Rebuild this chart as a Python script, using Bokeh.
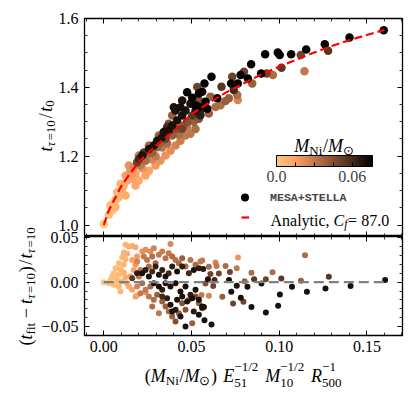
import numpy as np
from bokeh.plotting import figure
from bokeh.models import (ColumnDataSource, LinearColorMapper, ColorBar, FixedTicker, AllLabels,
                          Label, Legend, LegendItem, LinearAxis, Range1d, NumeralTickFormatter)
from bokeh.layouts import column
from bokeh.embed import file_html
from bokeh.resources import INLINE

# ---------------- data ----------------
top_x = [0.0, 0.0038, 0.0048, 0.0067, 0.0086, 0.0076, 0.0105, 0.0114, 0.0095, 0.0133, 0.0143, 0.0162,
         0.0124, 0.0152, 0.0181, 0.0171, 0.0190, 0.0209, 0.0200, 0.0219, 0.0238, 0.0228, 0.0257, 0.0257,
         0.0276, 0.0285, 0.0304, 0.0304, 0.0323, 0.0333, 0.0352, 0.0342, 0.0370, 0.0361, 0.0390, 0.0390,
         0.0409, 0.0418, 0.0409, 0.0437, 0.0447, 0.0466, 0.0475, 0.0456, 0.0504, 0.0494, 0.0523, 0.0542,
         0.0561, 0.0067, 0.0124, 0.0181, 0.0238, 0.0295, 0.0352, 0.0409, 0.0466, 0.0523, 0.0200, 0.0257,
         0.0323, 0.0380, 0.0437, 0.0494, 0.0143, 0.0200, 0.0257, 0.0314, 0.0370, 0.0390, 0.0276, 0.0333,
         0.0428, 0.0475, 0.0513, 0.0219, 0.0162, 0.0105, 0.0057, 0.0029, 0.0295, 0.0361, 0.0447, 0.0542,
         0.0475, 0.0447, 0.0399, 0.0504,
         0.1596, 0.1401, 0.1260, 0.1279, 0.1154, 0.1123, 0.1144, 0.1068, 0.1003, 0.0992, 0.1013, 0.0920,
         0.0964, 0.0928, 0.0897, 0.0840, 0.0846, 0.0821, 0.0780, 0.0799, 0.0732, 0.0764, 0.0726, 0.0741,
         0.0671, 0.0614, 0.0574, 0.0713, 0.0761, 0.0764, 0.0694, 0.0647, 0.0542, 0.0533, 0.0561, 0.0608,
         0.0580, 0.0637, 0.0590, 0.0546, 0.0523, 0.0551, 0.0599, 0.0665, 0.0542]
top_y = [1.003, 1.057, 1.042, 1.072, 1.081, 1.095, 1.090, 1.115, 1.120, 1.129, 1.144, 1.134,
         1.144, 1.159, 1.149, 1.168, 1.182, 1.173, 1.192, 1.202, 1.187, 1.211, 1.207, 1.221,
         1.211, 1.231, 1.226, 1.245, 1.240, 1.255, 1.250, 1.270, 1.274, 1.284, 1.260, 1.289,
         1.279, 1.304, 1.333, 1.342, 1.318, 1.333, 1.299, 1.289, 1.318, 1.352, 1.333, 1.309,
         1.338, 1.052, 1.086, 1.115, 1.144, 1.173, 1.202, 1.231, 1.260, 1.279, 1.129, 1.158,
         1.187, 1.216, 1.245, 1.265, 1.173, 1.202, 1.231, 1.260, 1.294, 1.318, 1.190, 1.225,
         1.262, 1.285, 1.300, 1.165, 1.150, 1.105, 1.065, 1.030, 1.200, 1.237, 1.280, 1.325,
         1.386, 1.362, 1.342, 1.370,
         1.566, 1.545, 1.525, 1.506, 1.510, 1.494, 1.447, 1.496, 1.494, 1.501, 1.457, 1.496,
         1.436, 1.440, 1.440, 1.467, 1.411, 1.426, 1.436, 1.445, 1.431, 1.411, 1.411, 1.392,
         1.402, 1.431, 1.411, 1.368, 1.378, 1.363, 1.360, 1.368, 1.382, 1.401, 1.387, 1.373,
         1.358, 1.343, 1.338, 1.343, 1.348, 1.319, 1.324, 1.348, 1.363]
top_c = [0.001, 0.004, 0.003, 0.005, 0.006, 0.006, 0.008, 0.010, 0.008, 0.012, 0.012, 0.014,
         0.015, 0.020, 0.015, 0.025, 0.050, 0.030, 0.060, 0.070, 0.035, 0.055, 0.035, 0.070,
         0.040, 0.070, 0.040, 0.070, 0.040, 0.070, 0.050, 0.070, 0.070, 0.060, 0.040, 0.070,
         0.045, 0.070, 0.070, 0.070, 0.070, 0.070, 0.045, 0.040, 0.055, 0.070, 0.070, 0.045,
         0.060, 0.008, 0.010, 0.012, 0.015, 0.018, 0.020, 0.025, 0.030, 0.035, 0.012, 0.015,
         0.020, 0.022, 0.028, 0.030, 0.020, 0.030, 0.035, 0.040, 0.045, 0.040, 0.025, 0.030,
         0.035, 0.030, 0.040, 0.020, 0.018, 0.010, 0.005, 0.003, 0.030, 0.035, 0.050, 0.050,
         0.075, 0.070, 0.070, 0.075,
         0.075, 0.075, 0.075, 0.055, 0.075, 0.050, 0.030, 0.075, 0.075, 0.075, 0.055, 0.075,
         0.035, 0.050, 0.075, 0.075, 0.040, 0.075, 0.075, 0.050, 0.050, 0.075, 0.075, 0.060,
         0.055, 0.075, 0.075, 0.040, 0.035, 0.025, 0.040, 0.075, 0.075, 0.050, 0.075, 0.040,
         0.075, 0.035, 0.075, 0.075, 0.075, 0.065, 0.040, 0.035, 0.045]

res_x = [0.0, 0.0124, 0.0143, 0.0162, 0.0181, 0.0114, 0.0133, 0.0105, 0.0124, 0.0086, 0.0114, 0.0067,
         0.0095, 0.0057, 0.0086, 0.0114, 0.0124, 0.0067, 0.0076, 0.0105, 0.0133, 0.0086, 0.0143, 0.0162,
         0.0095, 0.0181, 0.0038, 0.0048, 0.0029, 0.0057, 0.0152, 0.0171, 0.0181, 0.0162, 0.0190, 0.0219,
         0.0238, 0.0266, 0.0285, 0.0380, 0.0190, 0.0238,
         0.0190, 0.0209, 0.0228, 0.0247, 0.0257, 0.0276, 0.0295, 0.0314, 0.0333, 0.0352, 0.0370, 0.0390,
         0.0409, 0.0428, 0.0447, 0.0466, 0.0494, 0.0523, 0.0551, 0.0200, 0.0219, 0.0238, 0.0266, 0.0190,
         0.0209, 0.0257, 0.0285, 0.0276, 0.0304, 0.0333, 0.0314, 0.0352, 0.0370, 0.0390, 0.0409, 0.0428,
         0.0466, 0.0504, 0.0447, 0.0485, 0.0523, 0.0542, 0.0561,
         0.0162, 0.0190, 0.0219, 0.0238, 0.0257, 0.0276, 0.0295, 0.0314, 0.0333, 0.0352, 0.0370, 0.0390,
         0.0418, 0.0447, 0.0485, 0.0513, 0.0542, 0.0285, 0.0314, 0.0333, 0.0352, 0.0380, 0.0409, 0.0437,
         0.0466, 0.0494, 0.0523, 0.0418, 0.0447, 0.0475, 0.0504, 0.0542, 0.0561, 0.0333, 0.0361, 0.0380,
         0.0409, 0.0437, 0.0390, 0.0466, 0.0513, 0.0542,
         0.0561, 0.0567, 0.0599, 0.0594, 0.0637, 0.0643, 0.0608, 0.0656, 0.0631, 0.0580, 0.0624, 0.0557,
         0.0599, 0.0676, 0.0561, 0.0571, 0.0574, 0.0614, 0.0694, 0.0719, 0.0765, 0.0758, 0.0714, 0.0727,
         0.0758, 0.0737, 0.0781, 0.0796, 0.0803, 0.0819, 0.0842, 0.0857, 0.0842, 0.0899, 0.0924, 0.0962,
         0.0924, 0.0994, 0.1004, 0.1012, 0.1073, 0.1124, 0.1147, 0.1158, 0.1264, 0.1283, 0.1407, 0.1604]
res_r = [0.0, 0.0422, 0.0403, 0.0410, 0.0395, 0.0335, 0.0320, 0.0283, 0.0260, 0.0214, 0.0199, 0.0158,
         0.0147, 0.0102, 0.0083, 0.0109, 0.0057, 0.0045, 0.0019, 0.0008, -0.0011, -0.0049, -0.0049, -0.0086,
         -0.0105, -0.0161, 0.0026, 0.0064, -0.0011, -0.0030, 0.0064, 0.0139, 0.0196, 0.0252, 0.0290, 0.0347,
         0.0365, 0.0347, 0.0384, 0.0430, -0.0151, -0.0113,
         0.0233, 0.0139, 0.0290, 0.0252, 0.0177, 0.0290, 0.0214, 0.0309, 0.0347, 0.0271, 0.0328, 0.0290,
         0.0252, 0.0214, 0.0271, 0.0177, 0.0252, 0.0196, 0.0233, 0.0064, -0.0011, -0.0086, -0.0049, -0.0049,
         -0.0124, -0.0161, -0.0199, -0.0274, -0.0143, -0.0218, -0.0350, -0.0274, -0.0331, -0.0387, -0.0444, -0.0350,
         -0.0312, -0.0463, -0.0237, -0.0199, -0.0161, -0.0237, -0.0293,
         0.0045, 0.0102, 0.0102, 0.0139, 0.0064, 0.0120, 0.0177, 0.0083, 0.0139, 0.0064, 0.0102, 0.0177,
         0.0120, 0.0177, 0.0102, 0.0139, 0.0158, -0.0011, -0.0049, -0.0086, -0.0011, -0.0049, -0.0011, -0.0105,
         -0.0049, -0.0143, -0.0086, -0.0199, -0.0161, -0.0218, -0.0180, -0.0199, -0.0274, -0.0161, -0.0180, -0.0256,
         -0.0312, -0.0387, -0.0331, -0.0500, -0.0331, -0.0368,
         0.0244, 0.0149, 0.0175, 0.0032, 0.0222, 0.0183, 0.0093, 0.0099, 0.0025, -0.0015, -0.0044, -0.0146,
         -0.0154, -0.0165, -0.0286, -0.0279, -0.0430, -0.0479, 0.0183, 0.0115, 0.0278, 0.0157, 0.0025, -0.0108,
         -0.0040, -0.0240, -0.0176, -0.0221, 0.0012, -0.0051, 0.0107, 0.0032, -0.0279, -0.0014, 0.0032, 0.0112,
         -0.0342, -0.0267, -0.0139, 0.0043, -0.0051, 0.0017, 0.0304, -0.0108, -0.0071, 0.0062, -0.0044, 0.0025]
res_c = [0.001, 0.008, 0.010, 0.010, 0.012, 0.008, 0.010, 0.006, 0.008, 0.005, 0.008, 0.004,
         0.006, 0.003, 0.006, 0.009, 0.010, 0.004, 0.005, 0.008, 0.010, 0.006, 0.012, 0.014,
         0.006, 0.016, 0.002, 0.003, 0.002, 0.004, 0.014, 0.015, 0.017, 0.015, 0.018, 0.020,
         0.022, 0.024, 0.026, 0.024, 0.012, 0.020,
         0.026, 0.030, 0.030, 0.032, 0.036, 0.034, 0.036, 0.030, 0.028, 0.032, 0.030, 0.034,
         0.032, 0.036, 0.040, 0.036, 0.032, 0.036, 0.030, 0.030, 0.034, 0.030, 0.036, 0.026,
         0.030, 0.030, 0.034, 0.034, 0.040, 0.040, 0.030, 0.040, 0.035, 0.040, 0.045, 0.040,
         0.045, 0.040, 0.045, 0.040, 0.045, 0.040, 0.040,
         0.055, 0.065, 0.070, 0.065, 0.070, 0.060, 0.065, 0.070, 0.065, 0.070, 0.060, 0.065,
         0.070, 0.065, 0.060, 0.070, 0.065, 0.070, 0.070, 0.065, 0.070, 0.070, 0.070, 0.070,
         0.070, 0.065, 0.070, 0.070, 0.070, 0.070, 0.070, 0.070, 0.070, 0.060, 0.065, 0.070,
         0.065, 0.070, 0.070, 0.070, 0.065, 0.070,
         0.030, 0.065, 0.035, 0.070, 0.025, 0.030, 0.050, 0.050, 0.060, 0.045, 0.050, 0.030,
         0.025, 0.040, 0.070, 0.070, 0.070, 0.070, 0.035, 0.050, 0.020, 0.030, 0.070, 0.070,
         0.070, 0.050, 0.070, 0.050, 0.040, 0.070, 0.035, 0.055, 0.070, 0.070, 0.050, 0.035,
         0.070, 0.070, 0.070, 0.055, 0.070, 0.040, 0.035, 0.070, 0.070, 0.055, 0.070, 0.070]

curve_x = [0.0, 0.0025, 0.005, 0.01, 0.015, 0.02, 0.03, 0.04, 0.05, 0.06, 0.07, 0.08,
           0.09, 0.10, 0.11, 0.12, 0.13, 0.14, 0.15, 0.16]
curve_y = [1.0, 1.038, 1.064, 1.113, 1.150, 1.183, 1.232, 1.274, 1.322, 1.355, 1.386, 1.412,
           1.438, 1.460, 1.481, 1.501, 1.520, 1.537, 1.552, 1.567]

cbar_ticks = [0.0, 0.06]
cbar_minor = [0.015, 0.03, 0.045]
cbar_labels = {0.0: "0.0", 0.06: "0.06"}
cbar_high = 0.076

top_yticks = [1.0, 1.2, 1.4, 1.6]
res_yticks = [-0.05, 0.0, 0.05]
res_ylabels = {-0.05: "\u22120.05", 0.0: "0.00", 0.05: "0.05"}
xticks = [0.0, 0.05, 0.10, 0.15]

# ---------------- geometry (picture pixels, origin top-left) ----------------
PAGE_W, PAGE_H = 407, 389
XR = (-0.011, 0.1703)
YT = (0.9666, 1.6)
YB = (-0.0602, 0.0516)
FL, FR = 84, 402             # frame left / right
TT, TB = 18, 236             # top frame
BT, BB = 236, 335            # residual frame
BOT_TOP = 230                # residual canvas starts 6 px above its frame (overlaps top canvas)
BOT_BOTTOM = 359

# copper_r palette
tt = np.linspace(1.0, 0.0, 256)
palette = ["#%02x%02x%02x" % (int(round(255 * min(1.0, 1.25 * v))),
                               int(round(255 * 0.7812 * v)),
                               int(round(255 * 0.4975 * v))) for v in tt]
mapper = LinearColorMapper(palette=palette, low=0.0, high=cbar_high)

SERIF = "Liberation Serif"
TICK_FS = "16px"

def style_axis(ax, ticks, minor, show, fmt=None, overrides=None, standoff=6):
    ax.ticker = FixedTicker(ticks=ticks, minor_ticks=minor)
    ax.axis_line_color = None
    ax.major_tick_in = 5
    ax.major_tick_out = 0
    ax.minor_tick_in = 3
    ax.minor_tick_out = 0
    ax.major_tick_line_color = "black"
    ax.minor_tick_line_color = "black"
    ax.major_tick_line_width = 1
    ax.minor_tick_line_width = 0.8
    ax.axis_label = None
    if show:
        ax.major_label_text_font = SERIF
        ax.major_label_text_font_size = TICK_FS
        ax.major_label_text_color = "black"
        ax.major_label_standoff = standoff
        if fmt is not None:
            ax.formatter = fmt
        if overrides is not None:
            ax.major_label_overrides = overrides
    else:
        ax.major_label_text_font_size = "0px"
        ax.major_label_text_color = None
        ax.major_label_standoff = 0

xminor = [round(-0.01 + 0.01 * i, 2) for i in range(19)]
ytop_minor = [round(0.95 + 0.05 * i, 2) for i in range(14)]
yres_minor = [round(-0.06 + 0.01 * i, 2) for i in range(12)]

# ---------------- top panel ----------------
order = np.argsort(np.array(top_c), kind="stable")
src_top = ColumnDataSource(dict(x=np.array(top_x)[order], y=np.array(top_y)[order],
                                c=np.array(top_c)[order]))

top = figure(width=PAGE_W, height=TB, x_range=Range1d(*XR), y_range=Range1d(*YT),
             output_backend="svg", toolbar_location=None,
             min_border_left=FL, min_border_right=PAGE_W - FR, min_border_top=TT,
             min_border_bottom=0)
top.grid.visible = False
top.outline_line_color = "black"
top.outline_line_width = 1.3
style_axis(top.xaxis[0], xticks, xminor, False)
style_axis(top.yaxis[0], top_yticks, ytop_minor, True, fmt=NumeralTickFormatter(format="0.0"))
ax_r = LinearAxis(); style_axis(ax_r, top_yticks, ytop_minor, False); top.add_layout(ax_r, "right")
ax_a = LinearAxis(); style_axis(ax_a, xticks, xminor, False); top.add_layout(ax_a, "above")

pts = top.scatter("x", "y", source=src_top, size=8.5, marker="circle",
                  fill_color={"field": "c", "transform": mapper}, line_color=None)
crv = top.line(curve_x, curve_y, line_color="#ff0000", line_width=2.2, line_dash="8 4")

leg_a = Legend(items=[LegendItem(label="MESA+STELLA", renderers=[pts], index=len(top_x) - 1)],
               location=(150, 28.7), glyph_width=21, glyph_height=20, label_height=20,
               spacing=0, padding=0, margin=0, label_standoff=15,
               label_text_font="Liberation Mono", label_text_font_size="11.6px",
               label_text_font_style="bold",
               background_fill_alpha=0, border_line_alpha=0)
leg_b = Legend(items=[LegendItem(label=" ", renderers=[crv])],
               location=(157, 8.7), glyph_width=8, glyph_height=20, label_height=20,
               spacing=0, padding=0, margin=0, label_standoff=2,
               label_text_font=SERIF, label_text_font_size="16px",
               background_fill_alpha=0, border_line_alpha=0)
top.add_layout(leg_a)
top.add_layout(leg_b)

cb = ColorBar(color_mapper=mapper, orientation="horizontal", location=(192, 52),
              width=96, height=11, padding=0, margin=0,
              ticker=FixedTicker(ticks=cbar_ticks, minor_ticks=cbar_minor),
              major_label_overrides=cbar_labels, major_label_policy=AllLabels(),
              major_label_text_font=SERIF, major_label_text_font_size=TICK_FS,
              label_standoff=4, major_tick_in=4, major_tick_out=0,
              minor_tick_in=4, minor_tick_out=0,
              major_tick_line_color="black", minor_tick_line_color="black",
              bar_line_color="black", bar_line_width=1,
              background_fill_alpha=0, border_line_color=None)
top.add_layout(cb)

# ---------------- residual panel ----------------
order_r = np.argsort(np.array(res_c), kind="stable")
src_res = ColumnDataSource(dict(x=np.array(res_x)[order_r], y=np.array(res_r)[order_r],
                                c=np.array(res_c)[order_r]))
bot = figure(width=PAGE_W, height=BOT_BOTTOM - BOT_TOP, x_range=top.x_range, y_range=Range1d(*YB),
             output_backend="svg", toolbar_location=None,
             min_border_left=FL, min_border_right=PAGE_W - FR, min_border_top=BT - BOT_TOP,
             min_border_bottom=BOT_BOTTOM - BB)
bot.margin = (-(TB - BOT_TOP), 0, 0, 0)
bot.grid.visible = False
bot.border_fill_color = None
bot.background_fill_color = "white"
bot.outline_line_color = "black"
bot.outline_line_width = 1.3
style_axis(bot.xaxis[0], xticks, xminor, True, fmt=NumeralTickFormatter(format="0.00"), standoff=5)
style_axis(bot.yaxis[0], res_yticks, yres_minor, True, overrides=res_ylabels)
bx_r = LinearAxis(); style_axis(bx_r, res_yticks, yres_minor, False); bot.add_layout(bx_r, "right")
bx_a = LinearAxis(); style_axis(bx_a, xticks, xminor, False); bot.add_layout(bx_a, "above")

bot.scatter("x", "y", source=src_res, size=6, marker="circle",
            fill_color={"field": "c", "transform": mapper}, line_color=None)
bot.line([min(res_x), max(res_x)], [0.0, 0.0], line_color="#808080", line_width=2.2,
         line_dash="10 5")

# ---------------- transparent text layer over the whole picture ----------------
txt = figure(width=PAGE_W, height=PAGE_H, x_range=Range1d(0, PAGE_W), y_range=Range1d(PAGE_H, 0),
             output_backend="svg", toolbar_location=None, x_axis_type=None, y_axis_type=None,
             min_border=0, min_border_left=0, min_border_right=0, min_border_top=0,
             min_border_bottom=0)
if "frame_align" in txt.properties():
    txt.frame_align = False
txt.outline_line_color = None
txt.background_fill_color = None
txt.border_fill_color = None
txt.margin = (-(TB + (BOT_BOTTOM - BOT_TOP) - (TB - BOT_TOP)), 0, 0, 0)

REG = {' ': 250, '(': 333, ')': 333, '/': 278, '.': 250, ',': 250, '=': 564, '+': 564,
       '\u2212': 564, 'A': 722, 'n': 500, 'a': 444, 'l': 278, 'y': 500, 't': 278, 'i': 278,
       'c': 444, 'N': 722, 'f': 333, '\u2299': 838}
ITA = {'M': 833, 'N': 667, 'E': 611, 'R': 611, 't': 278, 'C': 667, 'f': 278, '\u03c4': 450}
SCR = 0.72

def tw(s, it, size):
    tab = ITA if it else REG
    return sum(tab.get(ch, 500) for ch in s) * size / 1000.0

def layout(elems, size):
    out = []
    adv = 0.0
    for e in elems:
        if e[0] == "m":
            _, t, it = e
            out.append((t, it, size, adv, 0.0))
            adv += tw(t, it, size)
        elif e[0] == "sp":
            adv += e[1] * size
        elif e[0] == "sc":
            _, sub, sup = e
            ss = SCR * size
            dsub = (0.42 if sup else 0.26) * size
            a = adv
            for t, it in (sub or []):
                out.append((t, it, ss, a, dsub)); a += tw(t, it, ss)
            wsub = a - adv
            a = adv
            for t, it in (sup or []):
                out.append((t, it, ss, a, -0.5 * size)); a += tw(t, it, ss)
            wsup = a - adv
            adv += max(wsub, wsup) + 0.04 * size
    return out, adv

def put(t, it, fs, x, y, rot):
    txt.add_layout(Label(x=x, y=y, text=t, angle=(np.pi / 2 if rot else 0.0),
                         text_font=SERIF, text_font_style=("italic" if it else "normal"),
                         text_font_size="%.1fpx" % fs, text_baseline="alphabetic",
                         text_align="left", text_color="black"))

LAB = 18.0

# x label
xlab = [("m", "(", False), ("m", "M", True), ("sc", [("Ni", False)], None), ("m", "/", False),
        ("m", "M", True), ("sc", [("\u2299", False)], None), ("m", ")", False), ("sp", 0.35),
        ("m", "E", True), ("sc", [("51", False)], [("\u22121/2", False)]), ("sp", 0.35),
        ("m", "M", True), ("sc", [("10", False)], [("\u22121/2", False)]), ("sp", 0.35),
        ("m", "R", True), ("sc", [("500", False)], [("\u22121", False)])]
pcs, W = layout(xlab, LAB)
x0 = (FL + FR) / 2 - W / 2
for t, it, fs, a, sh in pcs:
    put(t, it, fs, x0 + a, 375.0 + sh, False)

# top y label
ylab1 = [("m", "t", True), ("sc", [("\u03c4", True), ("=10", False)], None), ("sp", 0.08),
         ("m", "/", False), ("sp", 0.08), ("m", "t", True), ("sc", [("0", False)], None)]
pcs, W = layout(ylab1, LAB)
y0 = (TT + TB) / 2 + W / 2 - 2
for t, it, fs, a, sh in pcs:
    put(t, it, fs, 45.0 + sh, y0 - a, True)

# residual y label
ylab2 = [("m", "(", False), ("m", "t", True), ("sc", [("fit", False)], None), ("sp", 0.22),
         ("m", "\u2212", False), ("sp", 0.22), ("m", "t", True),
         ("sc", [("\u03c4", True), ("=10", False)], None), ("m", ")", False), ("sp", 0.08),
         ("m", "/", False), ("sp", 0.08), ("m", "t", True),
         ("sc", [("\u03c4", True), ("=10", False)], None)]
pcs, W = layout(ylab2, LAB)
y0 = (BT + BB) / 2 + W / 2
for t, it, fs, a, sh in pcs:
    put(t, it, fs, 25.0 + sh, y0 - a, True)

# colour-bar title
cbt = [("m", "M", True), ("sc", [("Ni", False)], None), ("m", "/", False),
       ("m", "M", True), ("sc", [("\u2299", False)], None)]
pcs, W = layout(cbt, LAB)
x0 = 324.0 - W / 2
for t, it, fs, a, sh in pcs:
    put(t, it, fs, x0 + a, 145.0 + sh, False)

# legend text of the analytic curve
ltx = [("m", "Analytic,", False), ("sp", 0.25), ("m", "C", True), ("sc", [("f", True)], None),
       ("m", "=", False), ("sp", 0.25), ("m", "87.0", False)]
pcs, W = layout(ltx, 16.0)
for t, it, fs, a, sh in pcs:
    put(t, it, fs, 270.0 + a, 219.5 + sh, False)

page = column(top, bot, txt, spacing=0)
open("out.html", "w").write(file_html(page, INLINE))
